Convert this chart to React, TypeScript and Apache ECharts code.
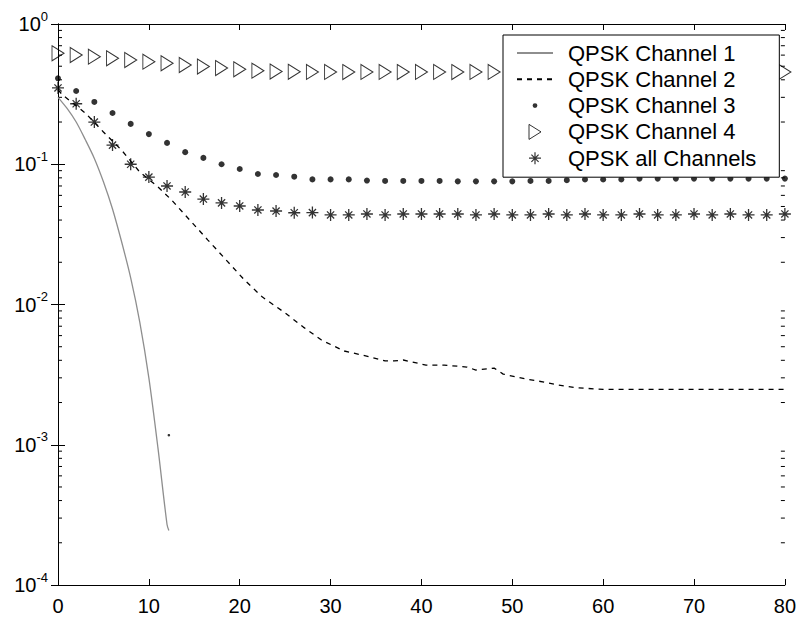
import React, { useEffect, useRef } from "react";
import * as echarts from "echarts";

// Marker series are sampled every 2 units along x
const markerX = [
  0, 2, 4, 6, 8, 10, 12, 14, 16, 18, 20, 22, 24, 26, 28, 30, 32, 34, 36, 38, 40,
  42, 44, 46, 48, 50, 52, 54, 56, 58, 60, 62, 64, 66, 68, 70, 72, 74, 76, 78, 80,
];

const channel3 = [
  0.41, 0.333, 0.278, 0.232, 0.194, 0.164, 0.142, 0.122, 0.111, 0.1, 0.0925,
  0.0852, 0.0838, 0.0815, 0.078, 0.078, 0.078, 0.0765, 0.076, 0.076, 0.076,
  0.076, 0.0755, 0.0755, 0.0755, 0.0755, 0.076, 0.076, 0.077, 0.078, 0.078,
  0.078, 0.079, 0.079, 0.079, 0.079, 0.079, 0.079, 0.079, 0.079, 0.079,
];

const channel4 = [
  0.618, 0.601, 0.585, 0.569, 0.554, 0.539, 0.525, 0.51, 0.497, 0.485, 0.475,
  0.465, 0.458, 0.456, 0.455, 0.455, 0.454, 0.455, 0.455, 0.454, 0.455, 0.455,
  0.454, 0.455, 0.455, 0.454, 0.455, 0.455, 0.454, 0.455, 0.455, 0.454, 0.455,
  0.455, 0.454, 0.455, 0.455, 0.454, 0.455, 0.455, 0.455,
];

const channelAll = [
  0.35, 0.27, 0.2, 0.137, 0.1, 0.081, 0.07, 0.0634, 0.0565, 0.053, 0.0504,
  0.0472, 0.0464, 0.0451, 0.0452, 0.0435, 0.0435, 0.0442, 0.0435, 0.0442,
  0.0442, 0.0442, 0.0442, 0.0435, 0.0442, 0.0435, 0.0435, 0.0442, 0.0435,
  0.0442, 0.0435, 0.0435, 0.0442, 0.0435, 0.0435, 0.0442, 0.0435, 0.0442,
  0.0435, 0.0435, 0.0442,
];

// Continuous curves
const channel1X = [0, 1, 2, 3, 4, 5, 6, 7, 8, 9, 10, 11, 12, 12.2];
const channel1Y = [
  0.3, 0.25, 0.2, 0.15, 0.11, 0.075, 0.048, 0.028, 0.0155, 0.0075, 0.003,
  0.00095, 0.00027, 0.000245,
];

const channel2X = [
  0, 0.5, 3, 5, 7, 9, 11, 12.5, 14.5, 16.5, 18.5, 20.5, 22.5, 25, 27, 29, 31.5,
  33.5, 36, 37, 38, 40.5, 42.5, 45, 46, 48, 49, 51.5, 53.5, 55, 57, 60, 80,
];
const channel2Y = [
  0.34, 0.312, 0.232, 0.17, 0.126, 0.088, 0.069, 0.0556, 0.04, 0.0288, 0.0208,
  0.015, 0.0113, 0.0087, 0.0069, 0.00558, 0.00466, 0.00436, 0.00396, 0.00396,
  0.00402, 0.0037, 0.0037, 0.00358, 0.00341, 0.00352, 0.00319, 0.00294, 0.0028,
  0.00267, 0.00255, 0.00248, 0.00248,
];

const strayPoint = [[12.2, 0.00117]];

const seriesNames = [
  "QPSK Channel 1",
  "QPSK Channel 2",
  "QPSK Channel 3",
  "QPSK Channel 4",
  "QPSK all Channels",
];

const X_MIN = 0;
const X_MAX = 80;
const FONT = "'Liberation Sans', Arial, Helvetica, sans-serif";

const TRIANGLE = "path://M0 0L12 7.5L0 15Z";
const STAR = "path://M6 0L6 12M0 6L12 6M2.4 2.4L9.6 9.6M2.4 9.6L9.6 2.4";
// Legend icons padded into a 15x15 box so each keeps its own size
const LEGEND_DOT =
  "path://M0 0M15 15M7.5 5.1A2.4 2.4 0 1 1 7.5 9.9A2.4 2.4 0 1 1 7.5 5.1Z";
const LEGEND_STAR =
  "path://M0 0M15 15M7.5 1.5L7.5 13.5M1.5 7.5L13.5 7.5M3.9 3.9L11.1 11.1M3.9 11.1L11.1 3.9";

// Minor ticks of the log axis at 2..9 times each decade
const minorTicks: number[][] = [];
for (let d = -4; d < 0; d++) {
  for (let k = 2; k <= 9; k++) minorTicks.push([X_MIN, k * Math.pow(10, d)]);
}

const zip = (xs: number[], ys: number[]) => xs.map((x, i) => [x, ys[i]]);

export default function App() {
  const ref = useRef<HTMLDivElement>(null);

  useEffect(() => {
    if (!ref.current) return;
    const chart = echarts.init(ref.current, null, { renderer: "svg" });

    const axisLine = { show: true, lineStyle: { color: "#000", width: 1 } };

    chart.setOption({
      animation: false,
      backgroundColor: "#fff",
      grid: { left: 58, right: 11, top: 24, bottom: 33 },
      xAxis: [
        {
          type: "value",
          position: "bottom",
          min: X_MIN,
          max: X_MAX,
          interval: 10,
          axisLine,
          axisTick: { inside: true, length: 6, lineStyle: { color: "#000" } },
          axisLabel: {
            color: "#000",
            fontSize: 20,
            fontFamily: FONT,
            margin: 11,
          },
          splitLine: { show: false },
        },
        {
          type: "value",
          position: "top",
          min: X_MIN,
          max: X_MAX,
          interval: 10,
          axisLine,
          axisTick: { inside: true, length: 6, lineStyle: { color: "#000" } },
          axisLabel: { show: false },
          splitLine: { show: false },
        },
      ],
      yAxis: [
        {
          type: "log",
          logBase: 10,
          position: "left",
          min: 1e-4,
          max: 1,
          splitNumber: 4,
          axisLine,
          axisTick: { inside: true, length: 7, lineStyle: { color: "#000" } },
          axisLabel: {
            margin: 10,
            formatter: (v: number) =>
              `{b|10}{s|${Math.round(Math.log10(v))}}`,
            rich: {
              b: {
                fontSize: 20,
                lineHeight: 20,
                color: "#000",
                fontFamily: FONT,
              },
              s: {
                fontSize: 13,
                lineHeight: 13,
                color: "#000",
                fontFamily: FONT,
                padding: [0, 0, 16, 0],
              },
            },
          },
          splitLine: { show: false },
        },
        {
          type: "log",
          logBase: 10,
          position: "right",
          min: 1e-4,
          max: 1,
          splitNumber: 4,
          axisLine,
          axisTick: { inside: true, length: 7, lineStyle: { color: "#000" } },
          axisLabel: { show: false },
          splitLine: { show: false },
        },
      ],
      legend: {
        orient: "vertical",
        left: 503,
        top: 35,
        padding: [7, 23, 8, 13],
        itemWidth: 36,
        itemHeight: 15,
        itemGap: 4.3,
        backgroundColor: "#fff",
        borderColor: "#000",
        borderWidth: 1,
        selectedMode: false,
        textStyle: {
          color: "#000",
          fontSize: 22,
          lineHeight: 21,
          fontFamily: FONT,
          padding: [0, 0, 0, 10],
        },
        data: [
          { name: seriesNames[0], itemStyle: { opacity: 0 } },
          { name: seriesNames[1], itemStyle: { opacity: 0 } },
          {
            name: seriesNames[2],
            icon: LEGEND_DOT,
            itemStyle: { color: "#000", borderWidth: 0 },
          },
          {
            name: seriesNames[3],
            icon: TRIANGLE,
            itemStyle: {
              color: "rgba(0,0,0,0)",
              borderColor: "#000",
              borderWidth: 1,
            },
          },
          {
            name: seriesNames[4],
            icon: LEGEND_STAR,
            itemStyle: { color: "#000", borderColor: "#000", borderWidth: 1.2 },
          },
        ],
      },
      series: [
        {
          name: "minor ticks",
          type: "custom",
          silent: true,
          clip: false,
          data: minorTicks,
          renderItem: (_p: any, api: any) => {
            const v = api.value(1);
            const l = api.coord([X_MIN, v]);
            const r = api.coord([X_MAX, v]);
            const st = { stroke: "#000", lineWidth: 1 };
            return {
              type: "group",
              children: [
                {
                  type: "line",
                  shape: { x1: l[0], y1: l[1], x2: l[0] + 4, y2: l[1] },
                  style: st,
                },
                {
                  type: "line",
                  shape: { x1: r[0] - 4, y1: r[1], x2: r[0], y2: r[1] },
                  style: st,
                },
              ],
            };
          },
        },
        {
          name: seriesNames[0],
          type: "line",
          data: zip(channel1X, channel1Y),
          smooth: 0.3,
          symbol: "none",
          lineStyle: { color: "#8e8e8e", width: 1.3 },
          itemStyle: { color: "#8e8e8e" },
        },
        {
          name: seriesNames[1],
          type: "line",
          data: zip(channel2X, channel2Y),
          symbol: "none",
          lineStyle: { color: "#000", width: 1.3, type: [5, 5] },
          itemStyle: { color: "#000" },
        },
        {
          name: seriesNames[2],
          type: "scatter",
          clip: false,
          data: zip(markerX, channel3),
          symbol: "circle",
          symbolSize: 6,
          itemStyle: { color: "#000" },
        },
        {
          name: seriesNames[3],
          type: "scatter",
          clip: false,
          data: zip(markerX, channel4),
          symbol: TRIANGLE,
          symbolSize: [12, 15],
          itemStyle: {
            color: "rgba(0,0,0,0)",
            borderColor: "#000",
            borderWidth: 1,
          },
        },
        {
          name: seriesNames[4],
          type: "scatter",
          clip: false,
          data: zip(markerX, channelAll),
          symbol: STAR,
          symbolSize: 12,
          itemStyle: { color: "#000", borderColor: "#000", borderWidth: 1.3 },
        },
        {
          name: "stray",
          type: "scatter",
          clip: false,
          data: strayPoint,
          symbol: "circle",
          symbolSize: 2.5,
          itemStyle: { color: "#000" },
        },
      ],
    });

    return () => chart.dispose();
  }, []);

  return (
    <div
      ref={ref}
      style={{ position: "fixed", left: 0, top: 0, width: 799, height: 618 }}
    />
  );
}
